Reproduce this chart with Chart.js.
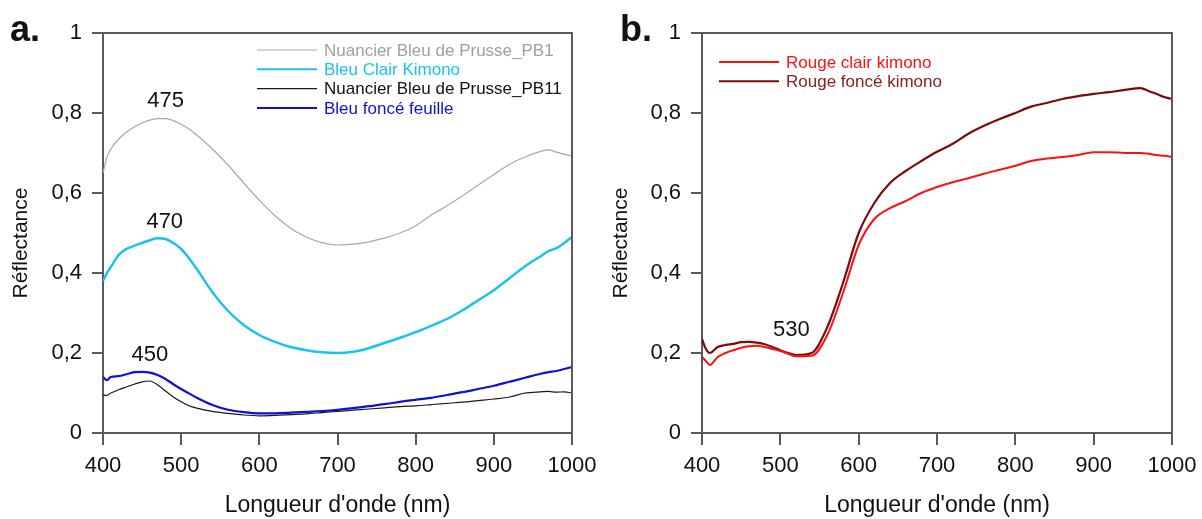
<!DOCTYPE html>
<html>
<head>
<meta charset="utf-8">
<script src="https://cdn.jsdelivr.net/npm/chart.js@4.4.0/dist/chart.umd.min.js"></script>
<style>
  body { margin: 0; background: #fff; }
  .panel { position: absolute; top: 0; height: 519px; }
  #wrapA { left: 0; width: 600px; }
  #wrapB { left: 600px; width: 602px; }
</style>
</head>
<body>
<div id="wrapA" class="panel"><canvas id="chartA" width="600" height="519"></canvas></div>
<div id="wrapB" class="panel"><canvas id="chartB" width="602" height="519"></canvas></div>
<script>
// wavelengths (nm), shared by every spectrum
const wavelengths = [400,405,410,420,430,440,450,460,470,480,490,500,510,520,540,560,580,600,620,640,660,680,700,720,740,760,780,800,820,840,860,880,900,920,940,960,970,980,990,1000];

// panel a
const prussePB1 = [0.65,0.69,0.71,0.735,0.752,0.765,0.775,0.782,0.786,0.786,0.781,0.772,0.76,0.745,0.71,0.67,0.625,0.582,0.543,0.512,0.49,0.476,0.47,0.472,0.478,0.487,0.5,0.518,0.545,0.568,0.593,0.62,0.646,0.672,0.69,0.704,0.708,0.702,0.697,0.692];
const bleuClair = [0.38,0.4,0.415,0.445,0.46,0.468,0.475,0.482,0.487,0.485,0.475,0.46,0.437,0.41,0.352,0.305,0.27,0.245,0.228,0.215,0.207,0.202,0.2,0.203,0.212,0.225,0.238,0.252,0.268,0.285,0.307,0.332,0.357,0.387,0.417,0.442,0.455,0.462,0.475,0.49];
const prussePB11 = [0.095,0.094,0.1,0.108,0.115,0.122,0.128,0.13,0.12,0.105,0.09,0.078,0.068,0.062,0.054,0.049,0.045,0.043,0.044,0.046,0.048,0.051,0.054,0.057,0.06,0.063,0.066,0.068,0.071,0.074,0.077,0.081,0.085,0.09,0.1,0.103,0.104,0.102,0.103,0.1];
const bleuFonce = [0.14,0.132,0.14,0.142,0.147,0.152,0.153,0.151,0.145,0.135,0.122,0.11,0.099,0.088,0.07,0.058,0.052,0.049,0.049,0.051,0.053,0.055,0.058,0.062,0.067,0.072,0.078,0.083,0.088,0.095,0.102,0.11,0.118,0.128,0.138,0.148,0.152,0.155,0.16,0.165];

// panel b
const rougeClair = [0.19,0.18,0.17,0.19,0.2,0.207,0.213,0.217,0.218,0.215,0.21,0.205,0.198,0.192,0.193,0.245,0.35,0.47,0.535,0.562,0.58,0.6,0.615,0.627,0.637,0.648,0.658,0.668,0.68,0.686,0.69,0.695,0.702,0.702,0.7,0.7,0.698,0.695,0.693,0.69];
const rougeFonce = [0.235,0.21,0.2,0.215,0.22,0.223,0.227,0.228,0.226,0.222,0.215,0.207,0.2,0.195,0.2,0.265,0.375,0.5,0.575,0.625,0.655,0.68,0.703,0.723,0.748,0.768,0.785,0.8,0.816,0.825,0.835,0.842,0.848,0.852,0.858,0.862,0.855,0.848,0.84,0.835];

// peak labels [text, wavelength, reflectance]
const peaksA = [["475", 480, 0.83], ["470", 479, 0.528], ["450", 460, 0.195]];
const peaksB = [["530", 514, 0.258]];

const xTicks = [400, 500, 600, 700, 800, 900, 1000];
const yTicks = [0, 0.2, 0.4, 0.6, 0.8, 1];

const FONT = "'Liberation Sans', Arial, sans-serif";
const AXIS = "#5a5a5a";

function toPoints(ys) {
  return wavelengths.map((x, i) => ({ x: x, y: ys[i] }));
}

function line(label, ys, color, width, textColor) {
  return {
    label: label,
    data: toPoints(ys),
    borderColor: color,
    borderWidth: width,
    pointRadius: 0,
    cubicInterpolationMode: "monotone",
    legendText: textColor || color
  };
}

const framePlugin = {
  id: "frame",
  afterDraw(chart, args, opts) {
    const ctx = chart.ctx;
    const a = chart.chartArea;
    const xs = chart.scales.x, ys = chart.scales.y;
    ctx.save();
    // top and right border
    ctx.strokeStyle = AXIS;
    ctx.lineWidth = 2;
    ctx.beginPath();
    ctx.moveTo(a.left, a.top);
    ctx.lineTo(a.right, a.top);
    ctx.lineTo(a.right, a.bottom);
    ctx.stroke();

    // legend inside plot
    ctx.font = "17px " + FONT;
    ctx.textBaseline = "middle";
    chart.data.datasets.forEach((d, i) => {
      const y = a.top + opts.legendTop + i * 19.3;
      const x0 = a.left + opts.legendLeft;
      ctx.strokeStyle = d.borderColor;
      ctx.lineWidth = Math.min(d.borderWidth, 2);
      ctx.beginPath();
      ctx.moveTo(x0, y);
      ctx.lineTo(x0 + 60, y);
      ctx.stroke();
      ctx.fillStyle = d.legendText;
      ctx.textAlign = "left";
      ctx.fillText(d.label, x0 + 67, y + 1);
    });

    // peak wavelengths
    ctx.font = "22px " + FONT;
    ctx.fillStyle = "#111";
    ctx.textAlign = "center";
    opts.peaks.forEach(p => {
      ctx.fillText(p[0], xs.getPixelForValue(p[1]), ys.getPixelForValue(p[2]));
    });

    // y axis title, a little below the axis centre as in the figure
    ctx.save();
    ctx.font = "21px " + FONT;
    ctx.translate(21, (a.top + a.bottom) / 2 + 10);
    ctx.rotate(-Math.PI / 2);
    ctx.fillText("Réflectance", 0, 0);
    ctx.restore();

    // panel letter
    ctx.font = "bold 36px " + FONT;
    ctx.textAlign = "left";
    ctx.fillStyle = "#111";
    ctx.fillText(opts.letter, opts.letterX, 31);
    ctx.restore();
  }
};

function fmt(v) {
  if (v === 0) return "0";
  if (v === 1) return "1";
  return v.toFixed(1).replace(".", ",");
}

function makeChart(id, datasets, axisWidth, rightPad, frameOpts) {
  return new Chart(document.getElementById(id), {
    type: "line",
    data: { datasets: datasets },
    plugins: [framePlugin],
    options: {
      responsive: false,
      animation: false,
      layout: { padding: { top: 33, right: rightPad, left: 0, bottom: 0 } },
      plugins: { legend: { display: false }, tooltip: { enabled: false }, frame: frameOpts },
      scales: {
        x: {
          type: "linear", min: 400, max: 1000,
          afterBuildTicks: s => { s.ticks = xTicks.map(v => ({ value: v })); },
          afterFit: s => { s.height = 86; s.paddingLeft = 0; s.paddingRight = 0; },
          grid: { drawOnChartArea: false, tickLength: 12, color: AXIS, lineWidth: 2 },
          border: { color: AXIS, width: 2 },
          ticks: { color: "#111", font: { family: FONT, size: 22 }, padding: 8, maxRotation: 0, callback: v => String(v) },
          title: { display: true, text: "Longueur d'onde (nm)", color: "#111", font: { family: FONT, size: 23 }, padding: { top: -3, bottom: 0 } }
        },
        y: {
          type: "linear", min: 0, max: 1,
          afterBuildTicks: s => { s.ticks = yTicks.map(v => ({ value: v })); },
          afterFit: s => { s.width = axisWidth; s.paddingTop = 0; s.paddingBottom = 0; },
          grid: { drawOnChartArea: false, tickLength: 11, color: AXIS, lineWidth: 2 },
          border: { color: AXIS, width: 2 },
          ticks: { color: "#111", font: { family: FONT, size: 22 }, padding: 10, callback: v => fmt(v) },
          title: { display: false }
        }
      }
    }
  });
}

makeChart("chartA", [
  line("Nuancier Bleu de Prusse_PB1", prussePB1, "#a9a9a9", 1.2, "#a0a0a0"),
  line("Bleu Clair Kimono", bleuClair, "#19c3f0", 2.5),
  line("Nuancier Bleu de Prusse_PB11", prussePB11, "#1a1a1a", 1.2, "#111"),
  line("Bleu foncé feuille", bleuFonce, "#1010d8", 2.2)
], 103, 28, { legendLeft: 154, legendTop: 17, peaks: peaksA, letter: "a.", letterX: 10 });

makeChart("chartB", [
  line("Rouge clair kimono", rougeClair, "#ff1010", 2),
  line("Rouge foncé kimono", rougeFonce, "#7a0c0c", 2.2, "#8a2020")
], 102, 30, { legendLeft: 17, legendTop: 29, peaks: peaksB, letter: "b.", letterX: 20 });
</script>
</body>
</html>
